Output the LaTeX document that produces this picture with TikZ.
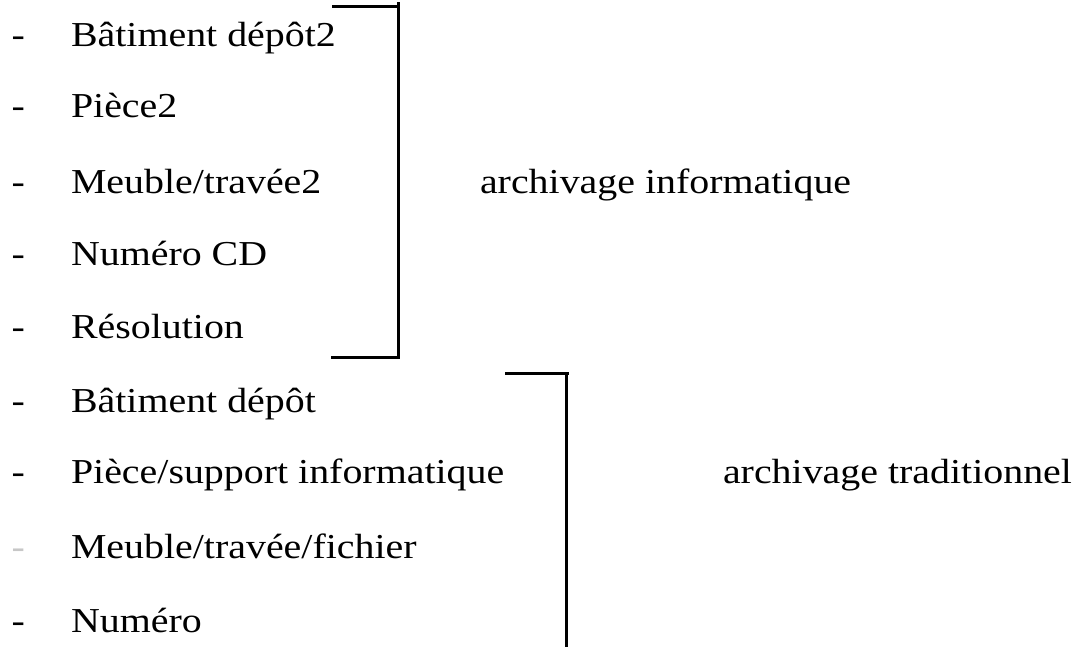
\documentclass[tikz,border=0pt]{standalone}
\usepackage{fontspec}
\setmainfont{Liberation Serif}[FakeStretch=1.14]
\begin{document}
\begin{tikzpicture}[x=1pt,y=-1pt,
  txt/.style={anchor=base west,inner sep=0pt,outer sep=0pt,font=\fontsize{35pt}{40pt}\selectfont},
  dashmark/.style={txt},
  faintdash/.style={txt,text=black!22},
  bracketline/.style={line width=3pt,line cap=rect}]
\useasboundingbox (0,0) rectangle (1075,646);
% dashes
\node[dashmark] (d1) at (11.5,46) {-};
\node[dashmark] (d2) at (11.5,117) {-};
\node[dashmark] (d3) at (11.5,193) {-};
\node[dashmark] (d4) at (11.5,265) {-};
\node[dashmark] (d5) at (11.5,338) {-};
\node[dashmark] (d6) at (11.5,412) {-};
\node[dashmark] (d7) at (11.5,483) {-};
\node[faintdash] (d8) at (11.5,558) {-};
\node[dashmark] (d9) at (11.5,632) {-};
% items
\node[txt] (i1) at (71,46) {Bâtiment dépôt2};
\node[txt] (i2) at (71,117) {Pièce2};
\node[txt] (i3) at (71,193) {Meuble/travée2};
\node[txt] (i4) at (71,265) {Numéro CD};
\node[txt] (i5) at (71,338) {Résolution};
\node[txt] (i6) at (71,412) {Bâtiment dépôt};
\node[txt] (i7) at (71,483) {Pièce/support informatique};
\node[txt] (i8) at (71,558) {Meuble/travée/fichier};
\node[txt] (i9) at (71,632) {Numéro};
% labels
\node[txt] (l1) at (480,193) {archivage informatique};
\node[txt] (l2) at (723,483) {archivage traditionnel};
% bracket 1
\coordinate (b1a) at (333,6);
\coordinate (b1b) at (398,6);
\coordinate (b1t) at (398,3);
\coordinate (b1c) at (398,357);
\coordinate (b1d) at (332,357);
\draw[bracketline] (b1a) -- (b1b);
\draw[bracketline] (b1t) -- (b1c) -- (b1d);
% bracket 2
\coordinate (b2a) at (506,373);
\coordinate (b2b) at (567,373);
\coordinate (b2t) at (566,373);
\coordinate (b2c) at (566,646);
\draw[bracketline] (b2a) -- (b2b);
\draw[bracketline] (b2t) -- (b2c);
\end{tikzpicture}
\end{document}
